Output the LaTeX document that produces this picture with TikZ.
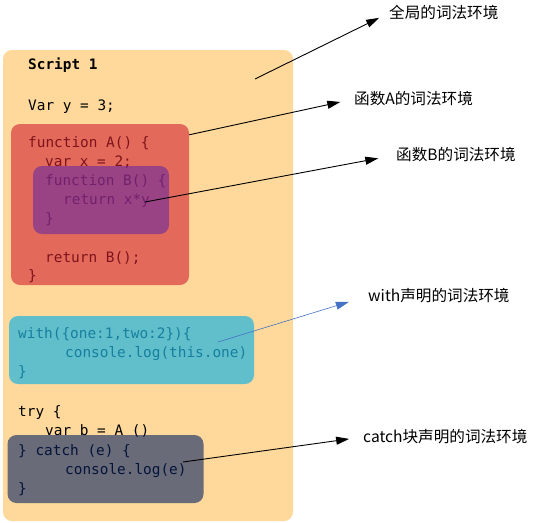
\documentclass[tikz,border=0pt]{standalone}
\usepackage{fontspec}
\setmonofont{DejaVu Sans Mono}
\newfontfamily\cjk{Noto Sans CJK SC}
\usetikzlibrary{arrows.meta}

\definecolor{scriptbg}{RGB}{254,217,155}
\definecolor{fnA}{RGB}{210,32,47}
\definecolor{fnB}{RGB}{105,42,162}
\definecolor{withbg}{RGB}{31,181,225}
\definecolor{catchbg}{RGB}{7,34,97}
\definecolor{witharrow}{RGB}{68,114,196}

\tikzset{
  envbox/.style={rectangle, rounded corners=9pt, inner sep=0, draw=none},
  code/.style={font=\fontsize{14.4}{17}\ttfamily, inner sep=0, anchor=base west},
  envlabel/.style={font=\fontsize{15.6}{19}\cjk, inner sep=0, anchor=west},
  envarrow/.style={-{Triangle[length=13pt,width=8pt]}, line width=0.9pt}
}

\begin{document}
\begin{tikzpicture}[x=1pt,y=-1pt]
	\useasboundingbox (0,0) rectangle (534,522);
	% global scope
	\node[envbox, fill=scriptbg, minimum width=290, minimum height=471] (global) at (148,285.5) {};
	% code lines
	\node[code] (scr) at (28,69) {\bfseries Script 1};
	\node[code] (ly) at (28,110) {Var y = 3;};
	\node[code] (la1) at (28,147) {function A() \{};
	\node[code] (la2) at (45,166) {var x = 2;};
	\node[code] (lb1) at (45,185) {function B() \{};
	\node[code] (lb2) at (63,204) {return x*y};
	\node[code] (lb3) at (45,223) {\}};
	\node[code] (la3) at (45,262) {return B();};
	\node[code] (la4) at (28,280) {\}};
	\node[code] (lw1) at (18,338) {with(\{one:1,two:2\})\{};
	\node[code] (lw2) at (65,357) {console.log(this.one)};
	\node[code] (lw3) at (18,376) {\}};
	\node[code] (lt1) at (18,416) {try \{};
	\node[code] (lt2) at (45,435) {var b = A ()};
	\node[code] (lc1) at (18,455) {\} catch (e) \{};
	\node[code] (lc2) at (65,474) {console.log(e)};
	\node[code] (lc3) at (18,493) {\}};
	% inner scopes
	\node[envbox, fill=fnA, fill opacity=0.6, minimum width=178, minimum height=161] (fa) at (100,204.5) {};
	\node[envbox, fill=fnB, fill opacity=0.6, minimum width=136, minimum height=68] (fb) at (101,200) {};
	\node[envbox, fill=withbg, fill opacity=0.7, minimum width=245, minimum height=68] (wb) at (131.5,350) {};
	\node[envbox, fill=catchbg, fill opacity=0.6, minimum width=196, minimum height=68] (cb) at (105.5,469) {};
	% labels
	\node[envlabel] (lblG) at (389,13) {全局的词法环境};
	\node[envlabel] (lblA) at (354,99) {函数A的词法环境};
	\node[envlabel] (lblB) at (396,155) {函数B的词法环境};
	\node[envlabel] (lblW) at (368,296) {with声明的词法环境};
	\node[envlabel] (lblC) at (363,437) {catch块声明的词法环境};
	% arrows
	\coordinate (srcG) at (255,79);
	\coordinate (srcB) at (145,202);
	\coordinate (srcW) at (218,342);
	\coordinate (srcC) at (183,462);
	\draw[envarrow, shorten >=11pt] (srcG) -- (lblG.west);
	\draw[envarrow, shorten >=14pt] (fa.north east) ++(0,11) coordinate (srcA) -- (lblA.west);
	\draw[envarrow, shorten >=18pt] (srcB) -- (lblB.west);
	\draw[envarrow, witharrow, line width=0.6pt, shorten >=20pt] (srcW) -- (lblW.west);
	\draw[envarrow, shorten >=14pt] (srcC) -- (lblC.west);
\end{tikzpicture}
\end{document}
